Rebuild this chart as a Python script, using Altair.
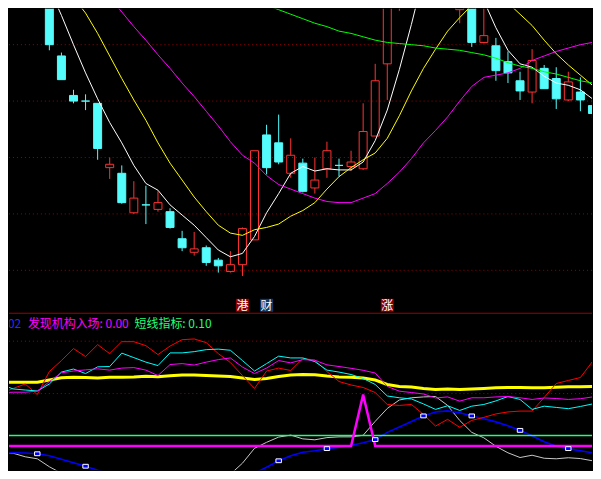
import altair as alt
import pandas as pd

# ---------------- top panel: daily candles ----------------
idx = list(range(46))
open_ = [8.57, 7.90, 7.55, 7.50, 7.48, 6.91, 6.86, 6.51, 6.58, 6.54,
         6.52, 6.28, 6.16, 6.20, 6.09, 5.99, 6.05, 6.27, 7.20, 7.13,
         6.86, 6.95, 6.73, 6.90, 6.93, 6.92, 6.90, 7.19, 7.83, 8.40,
         8.80, 9.10, 9.20, 9.00, 8.31, 8.42, 8.02, 7.99, 7.85, 7.68,
         7.58, 7.79, 7.70, 7.51, 7.58, 7.46]
close = [8.00, 7.69, 7.50, 7.50, 7.08, 6.94, 6.60, 6.64, 6.58, 6.60,
         6.38, 6.20, 6.19, 6.07, 6.04, 6.05, 6.37, 7.06, 6.91, 6.96,
         7.02, 6.70, 6.80, 7.06, 6.93, 6.96, 7.23, 7.68, 8.45, 8.80,
         9.10, 9.25, 9.00, 8.70, 8.37, 8.02, 8.08, 7.77, 7.75, 7.59,
         7.86, 7.61, 7.52, 7.67, 7.51, 7.39]
high = [8.65, 7.93, 7.60, 7.56, 7.48, 7.00, 6.93, 6.79, 6.75, 6.70,
        6.55, 6.35, 6.34, 6.22, 6.11, 6.17, 6.38, 7.06, 7.29, 7.38,
        7.17, 6.99, 7.00, 7.14, 6.99, 7.06, 7.48, 7.83, 8.45, 8.95,
        9.20, 9.40, 9.35, 9.05, 8.45, 8.50, 8.33, 8.06, 7.94, 7.76,
        7.96, 7.82, 7.80, 7.76, 7.71, 7.53]
low = [7.95, 7.69, 7.48, 7.42, 6.98, 6.81, 6.59, 6.50, 6.41, 6.52,
       6.37, 6.17, 6.13, 6.04, 5.98, 5.98, 5.95, 6.27, 6.85, 6.94,
       6.82, 6.69, 6.68, 6.82, 6.83, 6.88, 6.89, 7.19, 7.51, 8.30,
       8.70, 9.00, 8.90, 8.55, 8.19, 7.98, 8.01, 7.68, 7.66, 7.51,
       7.48, 7.61, 7.43, 7.50, 7.41, 7.35]

ma_idx = list(range(47))
ma5 = [8.50, 8.26, 8.00, 7.75, 7.52, 7.31, 7.13, 6.93, 6.77, 6.71,
       6.58, 6.49, 6.40, 6.29, 6.18, 6.12, 6.15, 6.30, 6.51, 6.68,
       6.86, 6.92, 6.88, 6.90, 6.89, 6.89, 6.96, 7.15, 7.42, 7.78,
       8.18, 8.61, 8.83, 8.96, 8.90, 8.65, 8.39, 8.15, 7.95, 7.83,
       7.80, 7.72, 7.66, 7.64, 7.60, 7.52, 7.47]
ma10 = [8.74, 8.58, 8.42, 8.28, 8.10, 7.90, 7.70, 7.51, 7.33, 7.13,
        6.95, 6.80, 6.65, 6.52, 6.40, 6.33, 6.31, 6.36, 6.38, 6.41,
        6.48, 6.53, 6.60, 6.72, 6.83, 6.91, 6.98, 7.04, 7.17, 7.37,
        7.59, 7.79, 7.96, 8.12, 8.24, 8.35, 8.48, 8.50, 8.37, 8.27,
        8.17, 8.04, 7.92, 7.82, 7.73, 7.64, 7.59]
ma20 = [9.03, 8.90, 8.78, 8.65, 8.53, 8.42, 8.29, 8.16, 8.04, 7.91,
        7.79, 7.66, 7.54, 7.41, 7.28, 7.14, 7.02, 6.95, 6.84, 6.76,
        6.72, 6.68, 6.64, 6.61, 6.60, 6.60, 6.64, 6.68, 6.77, 6.87,
        6.99, 7.13, 7.24, 7.36, 7.50, 7.63, 7.71, 7.73, 7.75, 7.79,
        7.86, 7.90, 7.94, 7.97, 8.00, 8.02, 8.03]
ma60 = [9.12, 9.08, 9.04, 9.00, 8.96, 8.91, 8.87, 8.83, 8.78, 8.74,
        8.70, 8.65, 8.61, 8.57, 8.53, 8.48, 8.44, 8.40, 8.35, 8.31,
        8.27, 8.23, 8.19, 8.16, 8.12, 8.10, 8.07, 8.04, 8.02, 8.01,
        8.00, 7.99, 7.97, 7.96, 7.95, 7.93, 7.91, 7.88, 7.84, 7.81,
        7.79, 7.76, 7.74, 7.71, 7.68, 7.66, 7.64]
ma_colors = ["#ffffff", "#ffff00", "#ff00ff", "#00ff00"]

price_grid = [8.0, 7.5, 7.0, 6.5, 6.0]

tag_idx = [16, 18, 28]
tag_text = ["港", "财", "涨"]
tag_bg = ["#8b0000", "#0a3a6a", "#8b0000"]

# ---------------- bottom panel: indicator ----------------
sub_idx = list(range(-4, 47))
sub_yellow = [0.608, 0.608, 0.608, 0.608, 0.629, 0.650, 0.656, 0.653, 0.648, 0.656,
              0.656, 0.658, 0.665, 0.660, 0.669, 0.677, 0.677, 0.672, 0.667, 0.663,
              0.648, 0.634, 0.644, 0.663, 0.677, 0.682, 0.679, 0.667, 0.658, 0.656,
              0.648, 0.629, 0.587, 0.568, 0.563, 0.549, 0.539, 0.544, 0.539, 0.544,
              0.549, 0.555, 0.558, 0.558, 0.555, 0.555, 0.561, 0.565, 0.565, 0.568, 0.568]
sub_red = [0.501, 0.549, 0.591, 0.491, 0.710, 0.815, 0.929, 0.853, 0.967, 0.881,
           0.995, 0.995, 0.957, 0.872, 0.953, 1.014, 1.021, 0.986, 0.881, 0.796,
           0.672, 0.549, 0.715, 0.743, 0.720, 0.834, 0.819, 0.710, 0.615, 0.582,
           0.558, 0.510, 0.396, 0.387, 0.396, 0.301, 0.190, 0.254, 0.178, 0.244,
           0.273, 0.306, 0.325, 0.333, 0.333, 0.463, 0.596, 0.625, 0.653, 0.805, 0.805]
sub_cyan = [0.587, 0.544, 0.534, 0.525, 0.591, 0.705, 0.734, 0.691, 0.755, 0.758,
            0.886, 0.843, 0.800, 0.767, 0.888, 0.888, 0.900, 0.919, 0.924, 0.913,
            0.815, 0.715, 0.786, 0.857, 0.840, 0.840, 0.805, 0.724, 0.705, 0.682,
            0.644, 0.587, 0.477, 0.460, 0.449, 0.401, 0.349, 0.384, 0.339, 0.380,
            0.396, 0.430, 0.472, 0.444, 0.349, 0.380, 0.368, 0.356, 0.377, 0.401, 0.420]
sub_magenta = [0.508, 0.513, 0.513, 0.523, 0.615, 0.698, 0.715, 0.726, 0.736, 0.724,
               0.743, 0.748, 0.724, 0.672, 0.777, 0.786, 0.772, 0.800, 0.824, 0.840,
               0.753, 0.691, 0.743, 0.815, 0.793, 0.824, 0.818, 0.774, 0.758, 0.741,
               0.722, 0.696, 0.568, 0.523, 0.510, 0.496, 0.458, 0.468, 0.428, 0.460,
               0.460, 0.468, 0.472, 0.460, 0.444, 0.458, 0.453, 0.444, 0.451, 0.468, 0.482]
sub_gray = [-0.063, -0.069, -0.103, -0.122, -0.198, -0.260, -0.336, -0.412, -0.478, -0.525,
            -0.563, -0.583, -0.583, -0.563, -0.535, -0.497, -0.450, -0.393, -0.317, -0.269,
            -0.164, -0.022, 0.035, 0.085, 0.104, 0.068, 0.059, 0.080, 0.087, 0.087,
            0.102, 0.235, 0.358, 0.439, 0.460, 0.468, 0.472, 0.387, 0.244, 0.130,
            0.078, -0.003, -0.065, -0.110, -0.088, -0.117, -0.122, -0.112, -0.120, -0.141, -0.169]
sub_blue = [-0.063, -0.065, -0.067, -0.074, -0.093, -0.126, -0.160, -0.193, -0.231, -0.264,
            -0.312, -0.355, -0.393, -0.431, -0.459, -0.478, -0.478, -0.450, -0.402, -0.355,
            -0.307, -0.260, -0.202, -0.141, -0.093, -0.060, -0.046, -0.025, -0.012, 0.004,
            0.030, 0.061, 0.130, 0.181, 0.233, 0.287, 0.325, 0.335, 0.318, 0.287,
            0.259, 0.230, 0.192, 0.149, 0.097, 0.040, -0.003, -0.025, -0.046, -0.065, -0.088]
sub_short = [0.10] * 51                      # 短线指标
sub_entry = [0.0] * 30 + [0.49] + [0.0] * 20  # 发现机构入场 (spike at bar 26)
marker_idx = [-1, 3, 7, 11, 15, 19, 23, 27, 31, 35, 39, 43]
sub_grid = [0.5, 1.0]

legend_text = ["0.02", "发现机构入场: 0.00", "短线指标: 0.10"]
legend_color = ["#2a2aff", "#ff00ff", "#22ff77"]

FONT = "Noto Sans CJK SC"
W, H_TOP, H_SUB = 585, 305, 158

X = alt.Scale(domain=[-3.344, 44.963], nice=False, zero=False, padding=0)
YP = alt.Scale(domain=[5.624, 8.318], nice=False, zero=False, padding=0)
YS = alt.Scale(domain=[-0.231, 1.271], nice=False, zero=False, padding=0)

xq = alt.X("i:Q", scale=X, axis=None)

# ---- top panel ----
cd = pd.DataFrame({"i": idx, "open": open_, "close": close, "high": high, "low": low})
cd["dir"] = ["up" if c > o else "down" for o, c in zip(open_, close)]
cd["top"] = cd[["open", "close"]].max(axis=1)
cd["bot"] = cd[["open", "close"]].min(axis=1)

stroke_sc = alt.Scale(domain=["up", "down"], range=["#ff3232", "#54fcfc"])
fill_sc = alt.Scale(domain=["up", "down"], range=["transparent", "#54fcfc"])

grid_top = alt.Chart(pd.DataFrame({"p": price_grid})).mark_rule(
    color="#9a0000", strokeDash=[1, 3], strokeWidth=1
).encode(y=alt.Y("p:Q", scale=YP, axis=None))

upper = alt.Chart(cd).mark_rule(clip=True, strokeWidth=1).encode(
    x=xq, y=alt.Y("high:Q", scale=YP, axis=None), y2="top:Q",
    stroke=alt.Stroke("dir:N", scale=stroke_sc, legend=None))
lower = alt.Chart(cd).mark_rule(clip=True, strokeWidth=1).encode(
    x=xq, y=alt.Y("bot:Q", scale=YP, axis=None), y2="low:Q",
    stroke=alt.Stroke("dir:N", scale=stroke_sc, legend=None))
body = alt.Chart(cd).mark_bar(size=8, clip=True, strokeWidth=1).encode(
    x=xq, y=alt.Y("open:Q", scale=YP, axis=None), y2="close:Q",
    fill=alt.Fill("dir:N", scale=fill_sc, legend=None),
    stroke=alt.Stroke("dir:N", scale=stroke_sc, legend=None))


def ma_line(values, color):
    df = pd.DataFrame({"i": ma_idx, "v": values})
    return alt.Chart(df).mark_line(clip=True, strokeWidth=1, color=color).encode(
        x=xq, y=alt.Y("v:Q", scale=YP, axis=None))


ma_layers = [ma_line(v, c) for v, c in zip([ma5, ma10, ma20, ma60], ma_colors)]

tag_layers = []
for ti, tt, tb in zip(tag_idx, tag_text, tag_bg):
    tdf = pd.DataFrame({"i": [ti], "t": [tt]})
    tag_layers.append(alt.Chart(tdf).mark_square(size=169, opacity=1, color=tb).encode(
        x=xq, y=alt.value(297.5)))
    tag_layers.append(alt.Chart(tdf).mark_text(
        color="#ffffff", fontSize=12, font=FONT, baseline="middle").encode(
        x=xq, y=alt.value(298), text="t:N"))

top = alt.layer(grid_top, upper, lower, body, *ma_layers, *tag_layers).properties(
    width=W, height=H_TOP)


# ---- bottom panel ----
def sub_line(values, color, width):
    df = pd.DataFrame({"i": sub_idx, "v": values})
    return alt.Chart(df).mark_line(color=color, strokeWidth=width, clip=True).encode(
        x=xq, y=alt.Y("v:Q", scale=YS, axis=None))


sep = alt.Chart(pd.DataFrame({"a": [0]})).mark_rule(color="#a00000", strokeWidth=1).encode(
    y=alt.value(0.5))
grid_sub = alt.Chart(pd.DataFrame({"g": sub_grid})).mark_rule(
    color="#9a0000", strokeDash=[1, 3], strokeWidth=1
).encode(y=alt.Y("g:Q", scale=YS, axis=None))

mk = pd.DataFrame({"i": marker_idx,
                   "v": [sub_blue[sub_idx.index(m)] for m in marker_idx]})
markers = alt.Chart(mk).mark_point(
    shape="M-1,-0.7L1,-0.7L1,0.7L-1,0.7Z", filled=True, fill="#0000ff",
    stroke="#ffffff", strokeWidth=1, size=30, opacity=1, clip=True
).encode(x=xq, y=alt.Y("v:Q", scale=YS, axis=None))

texts = []
for t, c, px in zip(legend_text, legend_color, [-11, 19, 126]):
    texts.append(alt.Chart(pd.DataFrame({"t": [t]})).mark_text(
        align="left", baseline="alphabetic", fontSize=12, font=FONT, color=c, clip=True
    ).encode(x=alt.value(px), y=alt.value(15.5), text="t:N"))

bottom = alt.layer(
    sep, grid_sub,
    sub_line(sub_gray, "#c8c8c8", 1),
    sub_line(sub_blue, "#0000ff", 1.6),
    sub_line(sub_yellow, "#ffff00", 3),
    sub_line(sub_red, "#ff0000", 1),
    sub_line(sub_cyan, "#00ffff", 1),
    sub_line(sub_magenta, "#ff00ff", 1),
    sub_line(sub_short, "#22ff77", 1.5),
    sub_line(sub_entry, "#ff00ff", 2.5),
    markers, *texts
).properties(width=W, height=H_SUB)

chart = alt.vconcat(top, bottom, spacing=0).properties(
    padding=0, background="#000000"
).configure_view(stroke=None, fill="#000000")

chart.save("out.html", embed_options={"renderer": "svg", "actions": False})
